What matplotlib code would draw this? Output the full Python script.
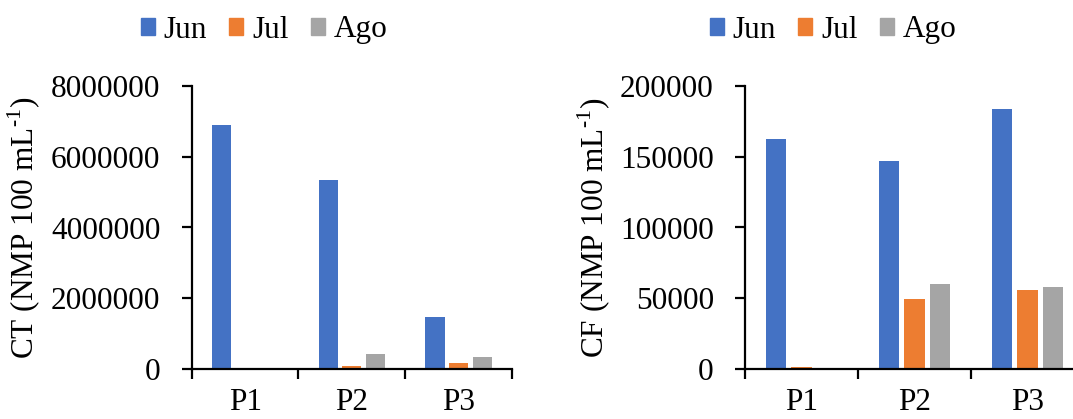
import matplotlib
matplotlib.use("Agg")
import matplotlib.pyplot as plt
from matplotlib.patches import Patch
import numpy as np

plt.rcParams['font.family'] = ['Liberation Serif', 'DejaVu Serif']
plt.rcParams['mathtext.fontset'] = 'custom'
plt.rcParams['mathtext.rm'] = 'Liberation Serif'

sites = ["P1", "P2", "P3"]
months = ["Jun", "Jul", "Ago"]
colors = ["#4472C4", "#ED7D31", "#A5A5A5"]

ct_jun = [6890000, 5340000, 1467000]
ct_jul = [0, 100000, 178000]
ct_ago = [0, 423000, 339000]

cf_jun = [162400, 147100, 183350]
cf_jul = [1400, 49400, 55900]
cf_ago = [0, 60150, 57830]

FS = 22.5
fig = plt.figure(figsize=(10.73, 4.19), dpi=100)

def px(x0, y0, x1, y1):
    return [x0 / 1073, 1 - y1 / 419, (x1 - x0) / 1073, (y1 - y0) / 419]

def draw(ax, series, ymax, ystep, ylabel, label_x, offsets, width):
    x = np.arange(len(sites))
    for vals, col, off, m in zip(series, colors, offsets, months):
        ax.bar(x + off, vals, width, color=col, label=m, zorder=2)
    ax.set_xlim(-0.5, 2.5)
    ax.set_ylim(0, ymax)
    yt = np.arange(0, ymax + 1, ystep)
    ax.set_yticks(yt)
    ax.set_yticklabels([f"{int(v)}" for v in yt], fontsize=FS)
    ax.set_xticks([-0.5, 0.5, 1.5, 2.5])
    ax.set_xticklabels([])
    ax.set_xticks(x, minor=True)
    ax.set_xticklabels(sites, minor=True, fontsize=FS)
    ax.tick_params(axis='x', which='minor', length=0, pad=13.5)
    ax.tick_params(axis='x', which='major', direction='out', length=7, width=1.6)
    ax.tick_params(axis='y', direction='out', length=7, width=1.6, pad=15.5)
    for s in ['top', 'right']:
        ax.spines[s].set_visible(False)
    for s in ['left', 'bottom']:
        ax.spines[s].set_linewidth(1.6)
    ax.set_ylabel(ylabel, fontsize=FS)
    ax.yaxis.label.set_va('center')
    ax.yaxis.set_label_coords(label_x, 0.5)

ax1 = fig.add_axes(px(191.7, 85.7, 512, 369.3))
draw(ax1, [ct_jun, ct_jul, ct_ago], 8000000, 2000000,
     r"CT (NMP 100 mL$^{\mathregular{\text{-}1}}$)", (24 - 191.7) / 320.3,
     [-0.221, 0.0, 0.225], 0.18)

ax2 = fig.add_axes(px(745, 85.7, 1084, 369.3))
draw(ax2, [cf_jun, cf_jul, cf_ago], 200000, 50000,
     r"CF (NMP 100 mL$^{\mathregular{\text{-}1}}$)", (594 - 745) / 339.0,
     [-0.226, 0.0, 0.225], 0.177)

handles = [Patch(color=c) for c in colors]
for cx in [264 / 1073, 833 / 1073]:
    fig.legend(handles, months, loc='center', bbox_to_anchor=(cx, 1 - 30 / 419),
               ncol=3, frameon=False, fontsize=FS, handlelength=0.46,
               handleheight=0.46, handletextpad=0.28, columnspacing=0.7,
               borderpad=0, borderaxespad=0)

fig.savefig("out.png", dpi=100)
